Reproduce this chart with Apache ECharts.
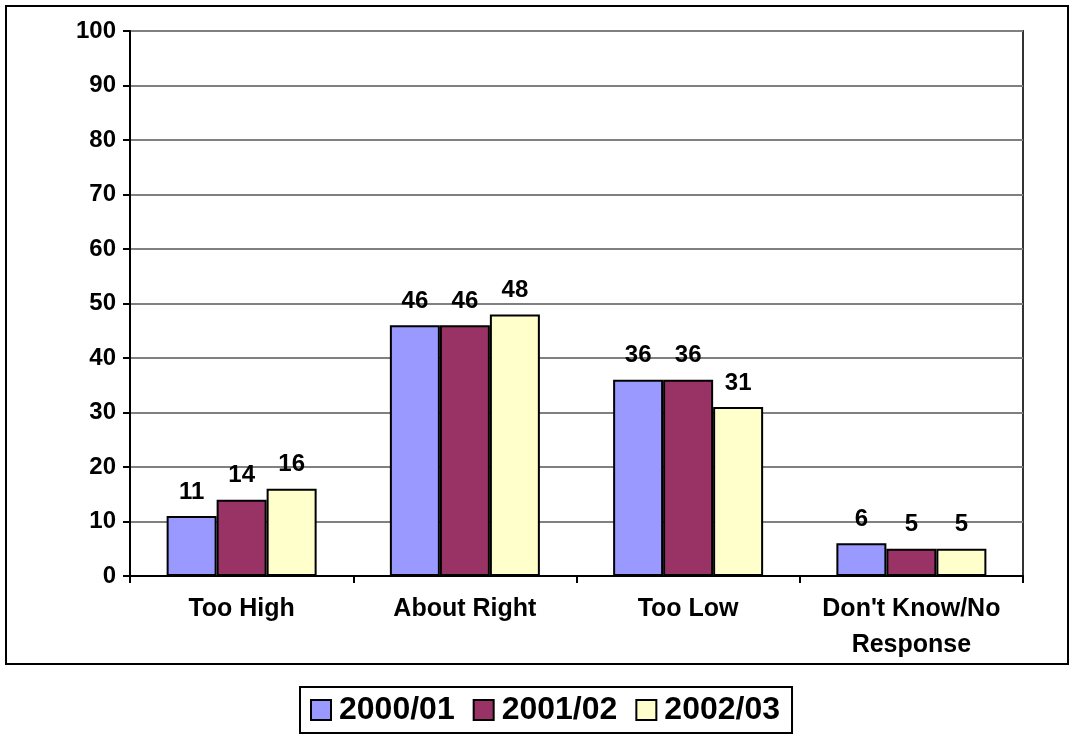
<!DOCTYPE html>
<html>
<head>
<meta charset="utf-8">
<script src="https://cdn.jsdelivr.net/npm/echarts@6/dist/echarts.min.js"></script>
<style>html,body{margin:0;padding:0;background:#fff;}#c{width:1075px;height:736px;}</style>
</head>
<body>
<div id="c"></div>
<script>
var categories = ['Too High', 'About Right', 'Too Low', "Don't Know/No\nResponse"];
var seriesNames = ['2000/01', '2001/02', '2002/03'];
var values2000 = [11, 46, 36, 6];
var values2001 = [14, 46, 36, 5];
var values2002 = [16, 48, 31, 5];
var colors = ['#9999FF', '#993366', '#FFFFCC'];
var yTicks = {min: 0, max: 100, interval: 10};

var FONT = 'Liberation Sans, Arial, sans-serif';
var chart = echarts.init(document.getElementById('c'));
var allValues = [values2000, values2001, values2002];
var series = seriesNames.map(function (n, i) {
  return {
    name: n, type: 'bar', data: allValues[i],
    barWidth: 50, barGap: '0%',
    itemStyle: {color: colors[i], borderColor: '#000', borderWidth: 2},
    label: {show: true, position: 'top', distance: 12, color: '#000', fontWeight: 'bold', fontSize: 24, fontFamily: FONT},
    emphasis: {disabled: true}
  };
});
chart.setOption({
  animation: false,
  color: colors,
  graphic: [{type: 'rect', shape: {x: 6, y: 6, width: 1062, height: 658}, style: {fill: 'none', stroke: '#000', lineWidth: 2}, z: -1}],
  grid: {left: 130, right: 52, top: 31, bottom: 160, show: true, borderColor: '#333', borderWidth: 2, backgroundColor: 'transparent'},
  legend: {
    data: seriesNames, bottom: 3, left: 300,
    icon: 'rect',
    itemWidth: 20, itemHeight: 20, itemGap: 18,
    padding: [7, 12, 7, 10],
    borderColor: '#000', borderWidth: 2,
    itemStyle: {borderColor: '#000', borderWidth: 2},
    textStyle: {fontSize: 32, fontWeight: 'bold', color: '#000', fontFamily: FONT, padding: [0, 0, 0, 3]},
    selectedMode: false
  },
  xAxis: {
    type: 'category', data: categories,
    axisLine: {lineStyle: {color: '#000', width: 2}},
    axisTick: {show: true, length: 7, lineStyle: {color: '#000', width: 2}},
    axisLabel: {color: '#000', fontWeight: 'bold', fontSize: 25, fontFamily: FONT, margin: 15, lineHeight: 36, interval: 0}
  },
  yAxis: {
    type: 'value', min: yTicks.min, max: yTicks.max, interval: yTicks.interval,
    axisLine: {show: true, lineStyle: {color: '#000', width: 2}},
    axisTick: {show: true, length: 7, lineStyle: {color: '#000', width: 2}},
    axisLabel: {color: '#000', fontWeight: 'bold', fontSize: 24, fontFamily: FONT, margin: 14},
    splitLine: {lineStyle: {color: '#808080', width: 2}}
  },
  series: series
});
</script>
</body>
</html>
